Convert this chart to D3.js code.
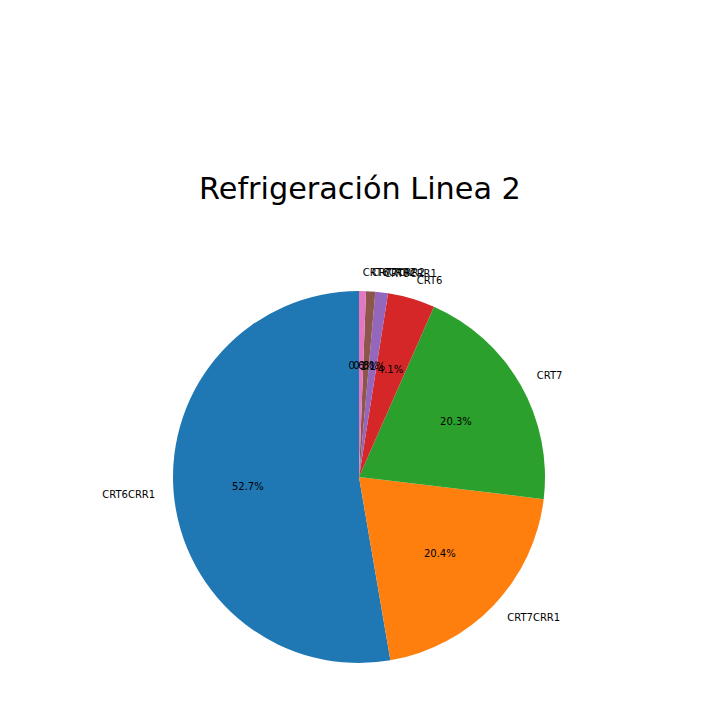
<!DOCTYPE html>
<html><head><meta charset="utf-8">
<script src="https://cdn.jsdelivr.net/npm/d3@7"></script>
<style>body{margin:0;background:#fff}svg{display:block}</style>
</head><body>
<svg id="c" width="720" height="720"></svg>
<script>
const categories = ["CRT6CRR1","CRT7CRR1","CRT7","CRT6","CRT8CRR1","CRT7CRR2","CRT6CRR2"];
const values = [52.7, 20.4, 20.3, 4.1, 1.1, 0.8, 0.6];
const colors = ["#1f77b4","#ff7f0e","#2ca02c","#d62728","#9467bd","#8c564b","#e377c2"];
const title = "Refrigeración Linea 2";

const svg = d3.select("#c");
const cx = 359, cy = 477, R = 186;
svg.append("text").attr("x", 360).attr("y", 199).attr("text-anchor","middle")
  .attr("font-family","DejaVu Sans").attr("font-size", 30.3).attr("fill","#000").text(title);

const data = categories.map((c,i)=>({name:c, value:values[i], color:colors[i]}));
const total = d3.sum(values);
const pie = d3.pie().value(d=>d.value).sort(null).startAngle(0).endAngle(-2*Math.PI);
const arcs = pie(data);
const arc = d3.arc().innerRadius(0).outerRadius(R);
const g = svg.append("g").attr("transform",`translate(${cx},${cy})`);
g.selectAll("path").data(arcs).join("path").attr("d", arc).attr("fill", d=>d.data.color);

arcs.forEach(d=>{
  const a = (d.startAngle + d.endAngle)/2;
  const lx = Math.sin(a)*R*1.1, ly = -Math.cos(a)*R*1.1;
  g.append("text").attr("x", lx).attr("y", ly).attr("dy","0.35em")
    .attr("text-anchor", lx > 0 ? "start" : "end")
    .attr("font-family","DejaVu Sans").attr("font-size",10).text(d.data.name);
  const px = Math.sin(a)*R*0.6, py = -Math.cos(a)*R*0.6;
  g.append("text").attr("x", px).attr("y", py).attr("dy","0.35em")
    .attr("text-anchor","middle")
    .attr("font-family","DejaVu Sans").attr("font-size",10)
    .text((d.data.value/total*100).toFixed(1)+"%");
});
</script>
</body></html>
